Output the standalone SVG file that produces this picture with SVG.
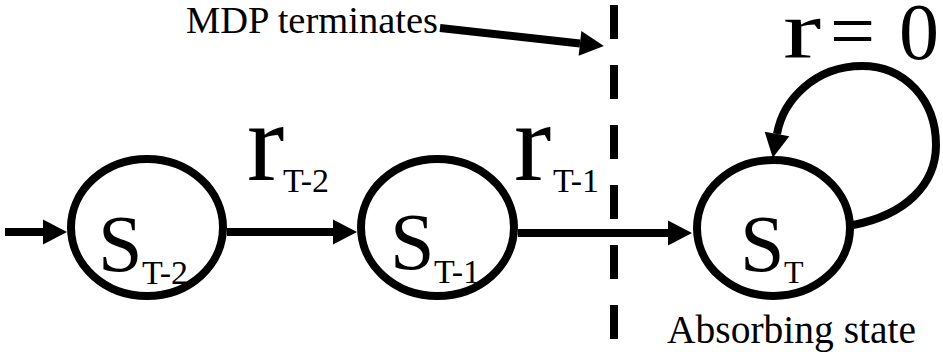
<svg xmlns="http://www.w3.org/2000/svg" width="943" height="352" viewBox="0 0 943 352">
<style>
text{font-family:'Liberation Serif','DejaVu Serif','Noto Serif',serif;fill:#000}
.node{fill:none;stroke:#000;stroke-width:8}
.edge{fill:none;stroke:#000;stroke-width:8}
.big{font-size:80px}
.sub{font-size:34px}
.rl{font-size:112px}
</style>
<defs>
<marker id="ah" markerUnits="userSpaceOnUse" markerWidth="26" markerHeight="27" refX="0" refY="12.5" orient="auto" overflow="visible">
<path d="M0,0 L24,12.5 L0,25 Z" fill="#000"/>
</marker>
</defs>
<rect width="943" height="352" fill="#fff"/>
<g id="connectors">
<line class="edge" x1="5" y1="232" x2="43" y2="232" marker-end="url(#ah)"/>
<line class="edge" x1="227" y1="232" x2="333" y2="232" marker-end="url(#ah)"/>
<line class="edge" x1="518" y1="233" x2="668" y2="233" marker-end="url(#ah)"/>
<path class="edge" d="M853 225 C905 215 936 185 936 145 C936 100 905 66 862 66 C815 66 783 100 777 134" marker-end="url(#ah)"/>
<line class="edge" x1="440" y1="28" x2="580" y2="43.4" marker-end="url(#ah)"/>
<line id="terminate-line" x1="614" y1="5" x2="614" y2="352" stroke="#000" stroke-width="8" stroke-dasharray="34 26"/>
<text class="rl" x="247" y="180">r</text><text class="sub" x="283" y="192">T-2</text>
<text class="rl" x="514" y="180">r</text><text class="sub" x="553" y="192">T-1</text>
<text transform="translate(783,58) scale(1.4,1)" font-size="82">r</text>
<text x="830" y="58" font-size="80">=</text>
<text x="899" y="59" font-size="80">0</text>
</g>
<g id="node-sT-2">
<ellipse class="node" cx="147" cy="227.5" rx="76" ry="68.5"/>
<text class="big" x="98" y="271">S</text><text class="sub" x="142" y="284">T-2</text>
</g>
<g id="node-sT-1">
<ellipse class="node" cx="437.5" cy="227.5" rx="76.5" ry="68.5"/>
<text class="big" x="390" y="269">S</text><text class="sub" x="434" y="283">T-1</text>
</g>
<g id="node-sT">
<ellipse class="node" cx="773.5" cy="228" rx="76.5" ry="68"/>
<text class="big" x="740" y="271">S</text><text x="784" y="283" font-size="32">T</text>
</g>
<text x="186" y="33" font-size="38.5">MDP terminates</text>
<text x="667" y="343" font-size="39.5">Absorbing state</text>
</svg>
